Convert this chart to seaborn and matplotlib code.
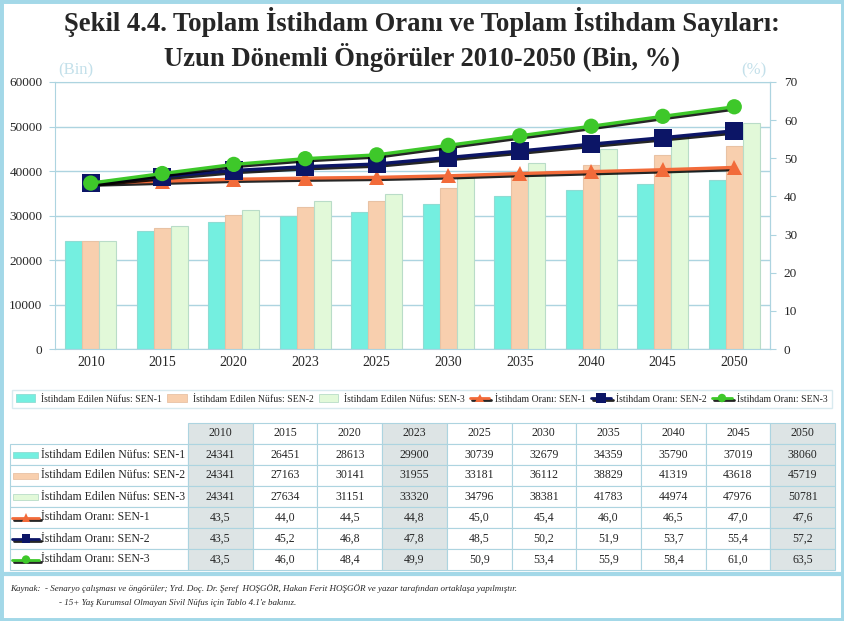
import numpy as np
import pandas as pd
import matplotlib
matplotlib.use("Agg")
import matplotlib.pyplot as plt
import matplotlib.patheffects as pe
from matplotlib.patches import Rectangle
from matplotlib.lines import Line2D
import seaborn as sns

# data
years = ["2010", "2015", "2020", "2023", "2025", "2030", "2035", "2040", "2045", "2050"]
nufus_sen1 = [24341, 26451, 28613, 29900, 30739, 32679, 34359, 35790, 37019, 38060]
nufus_sen2 = [24341, 27163, 30141, 31955, 33181, 36112, 38829, 41319, 43618, 45719]
nufus_sen3 = [24341, 27634, 31151, 33320, 34796, 38381, 41783, 44974, 47976, 50781]
oran_sen1 = [43.5, 44.0, 44.5, 44.8, 45.0, 45.4, 46.0, 46.5, 47.0, 47.6]
oran_sen2 = [43.5, 45.2, 46.8, 47.8, 48.5, 50.2, 51.9, 53.7, 55.4, 57.2]
oran_sen3 = [43.5, 46.0, 48.4, 49.9, 50.9, 53.4, 55.9, 58.4, 61.0, 63.5]

bar_labels = ["İstihdam Edilen Nüfus: SEN-1", "İstihdam Edilen Nüfus: SEN-2", "İstihdam Edilen Nüfus: SEN-3"]
line_labels = ["İstihdam Oranı: SEN-1", "İstihdam Oranı: SEN-2", "İstihdam Oranı: SEN-3"]
shaded_years = ["2010", "2023", "2050"]

bar_colors = ["#74efe0", "#f8cfae", "#e2f9d9"]
bar_edges = ["#8fdcd3", "#e8c2a4", "#b9dcc8"]
line_colors = ["#f26b3a", "#0c1566", "#3ec82a"]
line_markers = ["^", "s", "o"]
marker_sizes = [11, 13, 11]

FRAME = "#a3d8e8"
GRID = "#add4e0"
PALE = "#c3e0ea"
SHADE = "#dde4e5"

sns.set_style("white")
plt.rcParams["font.family"] = ["Liberation Serif", "DejaVu Serif"]

W, H = 844, 621
fig = plt.figure(figsize=(W / 100, H / 100), dpi=100)

def fx(px):
    return px / W

def fy(py):
    return 1 - py / H

# frame
fig.patches.append(Rectangle((0, 0), 1, 1, transform=fig.transFigure, fill=False,
                             edgecolor=FRAME, linewidth=5, zorder=0))
fig.add_artist(Line2D([0, 1], [fy(574), fy(574)], transform=fig.transFigure, color=FRAME, lw=3))

fig.text(0.5, fy(22), "Şekil 4.4. Toplam İstihdam Oranı ve Toplam İstihdam Sayıları:",
         ha="center", va="center", fontsize=19.2, fontweight="bold")
fig.text(0.5, fy(57), "Uzun Dönemli Öngörüler 2010-2050 (Bin, %)",
         ha="center", va="center", fontsize=19.2, fontweight="bold")

# chart
ax = fig.add_axes([fx(55), fy(349), fx(715), (349 - 82) / H])
df = pd.DataFrame({"year": years * 3,
                   "value": nufus_sen1 + nufus_sen2 + nufus_sen3,
                   "seri": sum([[lab] * len(years) for lab in bar_labels], [])})
sns.barplot(data=df, x="year", y="value", hue="seri", palette=bar_colors, saturation=1,
            width=0.72, gap=0, ax=ax, legend=False, zorder=2)
for i, cont in enumerate(ax.containers):
    for b in cont:
        b.set_edgecolor(bar_edges[i])
        b.set_linewidth(0.8)

n = len(years)
ax.set_xlim(-0.5, n - 0.5)
ax.set_ylim(0, 60000)
ax.set_yticks(np.arange(0, 60001, 10000))
ax.set_xlabel("")
ax.set_ylabel("")
ax.set_axisbelow(True)
ax.yaxis.grid(True, color=GRID, lw=1)
ax.set_xticks(np.arange(-0.5, n, 1), minor=True)
ax.tick_params(axis="x", which="major", length=0, labelsize=10, pad=5)
ax.tick_params(axis="x", which="minor", length=17, color=GRID, width=1)
ax.tick_params(axis="y", which="major", length=4, color=GRID, labelsize=9.5, pad=5, left=True)
for s in ["left", "bottom", "top", "right"]:
    ax.spines[s].set_color(GRID)
ax.text(0.004, 1.015, "(Bin)", transform=ax.transAxes, color=PALE, fontsize=12, va="bottom")

ax2 = ax.twinx()
ax2.set_ylim(0, 70)
ax2.set_yticks(np.arange(0, 71, 10))
ax2.tick_params(axis="y", length=4, color=GRID, labelsize=9.5, pad=6)
for s in ["left", "bottom", "top"]:
    ax2.spines[s].set_visible(False)
ax2.spines["right"].set_color(GRID)
ax2.text(0.995, 1.015, "(%)", transform=ax2.transAxes, color=PALE, fontsize=12, va="bottom", ha="right")

shadow = [pe.SimpleLineShadow(offset=(1.5, -1.5), shadow_color="black", alpha=0.85), pe.Normal()]
handles = []
for vals, c, m, ms, lab in zip([oran_sen1, oran_sen2, oran_sen3], line_colors, line_markers,
                               marker_sizes, line_labels):
    sns.lineplot(x=np.arange(n), y=vals, ax=ax2, color=c, lw=2.4, marker=m, markersize=ms,
                 legend=False)
    line = ax2.get_lines()[-1]
    line.set_markeredgecolor(c)
    line.set_markerfacecolor(c)
    line.set_markeredgewidth(0)
    line.set_path_effects(shadow)
    handles.append(Line2D([], [], color=c, lw=2, marker=m, markersize=ms * 0.55,
                          markeredgewidth=0, path_effects=shadow))
ax2.set_ylabel("")

bar_handles = [Rectangle((0, 0), 1, 1, facecolor=c, edgecolor=e, lw=0.6)
               for c, e in zip(bar_colors, bar_edges)]
leg = fig.legend(bar_handles + handles, bar_labels + line_labels, loc="center",
                 bbox_to_anchor=(fx(12), fy(415), fx(820), 32 / H), mode="expand", ncol=6,
                 fontsize=7, frameon=True, fancybox=False, edgecolor="#cfe5ec",
                 handlelength=2.0, handleheight=0.9, handletextpad=0.6, columnspacing=0.8,
                 borderaxespad=0)

# table
tax = fig.add_axes([fx(10), fy(570), fx(825), 147 / H])
tax.set_xlim(0, 825)
tax.set_ylim(0, 147)
tax.axis("off")
rows = [nufus_sen1, nufus_sen2, nufus_sen3]
rows_txt = [[str(v) for v in r] for r in rows]
rows_txt += [[f"{v:.1f}".replace(".", ",") for v in r] for r in [oran_sen1, oran_sen2, oran_sen3]]
all_labels = bar_labels + line_labels
cell_text = [[""] + years] + [[lab] + r for lab, r in zip(all_labels, rows_txt)]
col_w = [178 / 825] + [64.7 / 825] * n
tbl = tax.table(cellText=cell_text, colWidths=col_w, bbox=[0, 0, 1, 1], cellLoc="center")
tbl.auto_set_font_size(False)
tbl.set_fontsize(8.5)
for (r, c), cell in tbl.get_celld().items():
    cell.set_edgecolor(GRID)
    cell.set_linewidth(0.8)
    if c > 0 and years[c - 1] in shaded_years:
        cell.set_facecolor(SHADE)
    if r == 0 and c == 0:
        cell.visible_edges = ""
    if c == 0 and r > 0:
        cell.get_text().set_ha("left")
        cell.PAD = 0.175

row_h = 21
for i in range(6):
    yc = 147 - row_h - row_h * i - row_h / 2
    if i < 3:
        tax.add_patch(Rectangle((3, yc - 3), 25, 6, facecolor=bar_colors[i], edgecolor=bar_edges[i], lw=0.6))
    else:
        k = i - 3
        tax.plot([2, 16, 29], [yc, yc, yc], color=line_colors[k], lw=2, marker=line_markers[k],
                 markevery=[1], markersize=6, markeredgewidth=0, path_effects=shadow)

fig.text(fx(10), fy(589), "Kaynak:  - Senaryo çalışması ve öngörüler; Yrd. Doç. Dr. Şeref  HOŞGÖR, Hakan Ferit HOŞGÖR ve yazar tarafından ortaklaşa yapılmıştır.",
         fontsize=6.5, style="italic", va="center")
fig.text(fx(59), fy(603), "- 15+ Yaş Kurumsal Olmayan Sivil Nüfus için Tablo 4.1'e bakınız.",
         fontsize=6.5, style="italic", va="center")

fig.savefig("out.png", dpi=100, facecolor="white")
